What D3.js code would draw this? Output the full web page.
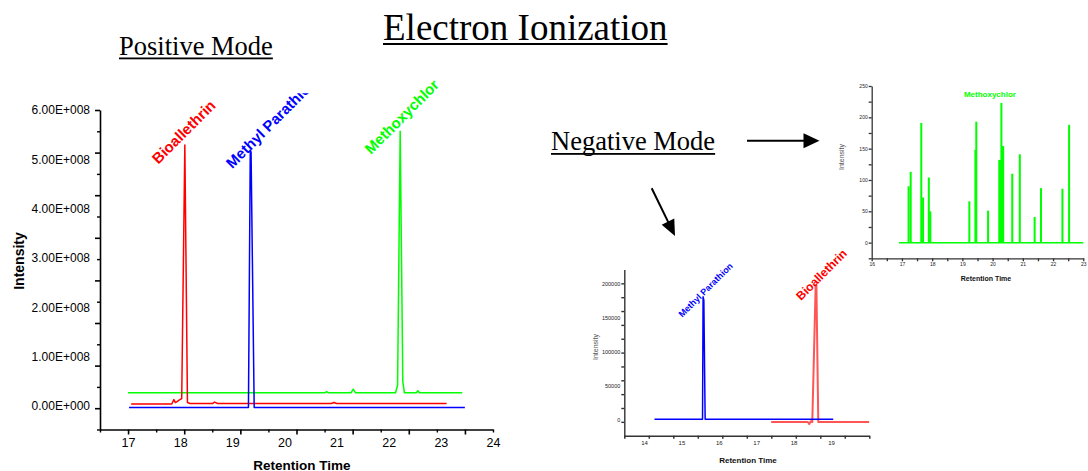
<!DOCTYPE html>
<html><head><meta charset="utf-8">
<script src="https://cdn.jsdelivr.net/npm/d3@7"></script>
<style>body{margin:0;background:#fff}svg{display:block}</style>
</head><body>
<svg id="c" width="1088" height="471"></svg>
<script>
// ---------------- DATA ----------------
// Positive mode (main chart)
const posXLabels = ["17","18","19","20","21","22","23","24"];
const posYLabels = [0, 1e8, 2e8, 3e8, 4e8, 5e8, 6e8];
const posBioallethrin = [[17.06,0.04e8],[17.84,0.04e8],[17.88,0.13e8],[17.91,0.07e8],[17.94,0.09e8],[17.98,0.12e8],[18.03,0.15e8],[18.09,5.29e8],[18.14,0.07e8],[18.19,0.05e8],[18.62,0.05e8],[18.66,0.08e8],[18.72,0.05e8],[20.9,0.05e8],[20.95,0.07e8],[21.0,0.05e8],[23.11,0.05e8]];
const posMethylParathion = [[17.02,-0.03e8],[19.31,-0.03e8],[19.345,5.19e8],[19.36,5.15e8],[19.42,-0.03e8],[23.46,-0.03e8]];
const posMethoxychlor = [[17.0,0.27e8],[20.78,0.27e8],[20.81,0.29e8],[20.84,0.27e8],[21.28,0.27e8],[21.32,0.34e8],[21.36,0.27e8],[22.13,0.27e8],[22.17,0.42e8],[22.22,5.57e8],[22.27,0.5e8],[22.3,0.27e8],[22.53,0.27e8],[22.56,0.31e8],[22.59,0.27e8],[23.41,0.27e8]];
const posNames = ["Bioallethrin","Methyl Parathion","Methoxychlor"];
const posLabelAt = [[17.58,4.89e8],[19.0,4.8e8],[21.66,5.09e8]];

// Negative mode, lower inset
const negXLabels = [14,15,16,17,18,19];
const negYLabels = [0,50000,100000,150000,200000];
const negMethylParathion = [[14.28,0],[15.565,0],[15.58,181000],[15.6,176000],[15.635,0],[19.06,0]];
const negBioallethrin = [[17.40,-4000],[18.38,-4000],[18.42,-7000],[18.46,-3000],[18.50,-4000],[18.59,198000],[18.61,198000],[18.66,-4000],[20.02,-4000]];
const negNames = ["Methyl Parathion","Bioallethrin"];
const negLabelAt = [[15.02,150000],[18.2,175000]];

// Negative mode, upper-right inset (Methoxychlor)
const mxXLabels = [16,17,18,19,20,21,22,23];
const mxYLabels = [0,50,100,150,200,250];
const mxRange = [16.9, 23.0];
const mxTimes   = [17.22,17.29,17.64,17.70,17.89,17.94,19.23,19.43,19.46,19.85,20.22,20.25,20.29,20.32,20.35,20.65,20.90,21.39,21.60,22.31,22.53];
const mxHeights = [90,113,191,72,104,50,66,148,193,51,132,132,223,154,154,110,141,41,87,86,188];
const mxName = "Methoxychlor";
const mxLabelAt = [19.91,232];

// ---------------- DRAW ----------------
const SANS = "'Liberation Sans', Arial, Helvetica, sans-serif";
const SERIF = "'Liberation Serif', 'Times New Roman', serif";
const RED = "#ff0000", BLUE = "#0000ff", GREEN = "#00ff00";
const svg = d3.select("#c");
svg.append("rect").attr("width",1088).attr("height",471).attr("fill","#fff");
svg.append("defs").append("clipPath").attr("id","clipTop")
  .append("rect").attr("x",0).attr("y",93.3).attr("width",1088).attr("height",400);

// titles with underline
function title(text, x, y, size, off, th) {
  const t = svg.append("text").attr("x",x).attr("y",y)
    .attr("font-family",SERIF).attr("font-size",size).attr("fill","#000").text(text);
  const w = t.node().getComputedTextLength();
  svg.append("rect").attr("x",x).attr("y",y+off).attr("width",w).attr("height",th).attr("fill","#000");
}
title("Electron Ionization", 383, 40, 37, 3, 2);
title("Positive Mode", 119, 55, 26.5, 2.5, 1.8);
title("Negative Mode", 551, 150, 26.5, 3, 1.8);

// arrows
function arrow(x1,y1,x2,y2,len,half){
  const dx=x2-x1, dy=y2-y1, L=Math.hypot(dx,dy), ux=dx/L, uy=dy/L;
  const bx=x2-ux*len, by=y2-uy*len;
  svg.append("line").attr("x1",x1).attr("y1",y1).attr("x2",bx+ux*2).attr("y2",by+uy*2)
    .attr("stroke","#000").attr("stroke-width",2);
  svg.append("path").attr("d",`M${x2},${y2}L${bx-uy*half},${by+ux*half}L${bx+uy*half},${by-ux*half}Z`).attr("fill","#000");
}
arrow(747,140.7,819.5,140.7,16,7.5);
arrow(651.7,188.3,675,236,16,7);

const eFmt = v => {
  if (v === 0) return "0.00E+000";
  const e = Math.floor(Math.log10(Math.abs(v)));
  return (v/Math.pow(10,e)).toFixed(2) + "E+" + String(e).padStart(3,"0");
};

function styleAxis(g, color, w){
  g.selectAll(".domain").attr("stroke",color).attr("stroke-width",w);
  g.selectAll(".tick line").attr("stroke",color).attr("stroke-width",w);
}

// ===== Main chart (positive mode) =====
{
  const left=100, right=493, top=110, bottom=429.5;
  const x = d3.scaleLinear([17,24],[128,493]);
  const y = d3.scaleLinear([0,6e8],[406,110]);
  const xFrame = d3.scaleLinear([16.5,23.5],[left,right]);
  const yFrame = d3.scaleLinear([0,15],[top,bottom]);
  const g = svg.append("g");

  const gx = g.append("g").attr("transform",`translate(0,${bottom})`);
  gx.call(d3.axisBottom(xFrame).tickValues(d3.range(17,23.6,1)).tickSize(5).tickSizeOuter(0).tickFormat(""));
  const gx2 = g.append("g").attr("transform",`translate(0,${bottom})`);
  gx2.call(d3.axisBottom(xFrame).tickValues(d3.range(16.5,23.6,1)).tickSize(3).tickSizeOuter(0).tickFormat(""));
  gx2.select(".domain").remove();
  styleAxis(gx,"#000",1.6); styleAxis(gx2,"#000",1.4);
  const gxl = g.append("g").attr("transform",`translate(0,${bottom})`);
  gxl.call(d3.axisBottom(x).tickValues(posXLabels.map(Number)).tickFormat((d,i)=>posXLabels[i]).tickSize(0).tickPadding(9));
  gxl.select(".domain").remove();
  gxl.selectAll("text").attr("font-family",SANS).attr("font-size",12.5).attr("fill","#000");

  const gy = g.append("g").attr("transform",`translate(${left},0)`);
  gy.call(d3.axisLeft(yFrame).tickValues(d3.range(0,15,2)).tickSize(5).tickSizeOuter(0).tickFormat(""));
  const gy2 = g.append("g").attr("transform",`translate(${left},0)`);
  gy2.call(d3.axisLeft(yFrame).tickValues(d3.range(1,16,2)).tickSize(3).tickSizeOuter(0).tickFormat(""));
  gy2.select(".domain").remove();
  styleAxis(gy,"#000",1.6); styleAxis(gy2,"#000",1.4);
  const gyl = g.append("g").attr("transform",`translate(${left},0)`);
  gyl.call(d3.axisLeft(y).tickValues(posYLabels).tickFormat(eFmt).tickSize(0).tickPadding(10));
  gyl.select(".domain").remove();
  gyl.selectAll("text").attr("font-family",SANS).attr("font-size",12).attr("fill","#000");

  g.append("text").attr("transform","translate(23.5,261) rotate(-90)").attr("text-anchor","middle")
    .attr("font-family",SANS).attr("font-weight","bold").attr("font-size",14).text("Intensity");
  g.append("text").attr("x",302).attr("y",469.5).attr("text-anchor","middle")
    .attr("font-family",SANS).attr("font-weight","bold").attr("font-size",13.5).text("Retention Time");

  const line = d3.line().x(d=>x(d[0])).y(d=>y(d[1]));
  const series = [posBioallethrin, posMethylParathion, posMethoxychlor];
  const colors = [RED, BLUE, GREEN];
  [2,0,1].forEach(i=>{
    g.append("path").datum(series[i]).attr("d",line).attr("fill","none")
      .attr("stroke",colors[i]).attr("stroke-width",1.5).attr("stroke-linejoin","round");
  });

  posNames.forEach((n,i)=>{
    const holder = g.append("g");
    if (i===1) holder.attr("clip-path","url(#clipTop)");
    holder.append("text").attr("transform",`translate(${x(posLabelAt[i][0])},${y(posLabelAt[i][1])}) rotate(-45)`)
      .attr("font-family",SANS).attr("font-weight","bold").attr("font-size",15)
      .attr("fill",colors[i]).text(n);
  });
}

// ===== Lower inset (negative mode) =====
{
  const left=624.3, right=869.3, top=269.5, bottom=435.7;
  const x = d3.scaleLinear([14,19],[644,831]);
  const y = d3.scaleLinear([0,200000],[419.3,284]);
  const xFrame = d3.scaleLinear([0,10],[left,right]);
  const yFrame = d3.scaleLinear([0,12],[top,bottom]);
  const g = svg.append("g");
  const AX = "#333";
  const gx = g.append("g").attr("transform",`translate(0,${bottom})`);
  gx.call(d3.axisBottom(xFrame).tickValues(d3.range(0,11)).tickSize(3).tickSizeOuter(0).tickFormat(""));
  styleAxis(gx,AX,1.5);
  const gxl = g.append("g").attr("transform",`translate(0,${bottom})`);
  gxl.call(d3.axisBottom(x).tickValues(negXLabels).tickFormat(d3.format("d")).tickSize(0).tickPadding(5));
  gxl.select(".domain").remove();
  gxl.selectAll("text").attr("font-family",SANS).attr("font-size",6).attr("fill","#222");

  const gy = g.append("g").attr("transform",`translate(${left},0)`);
  gy.call(d3.axisLeft(yFrame).tickValues(d3.range(1,12)).tickSize(3).tickSizeOuter(0).tickFormat(""));
  styleAxis(gy,AX,1.4);
  const gyl = g.append("g").attr("transform",`translate(${left},0)`);
  gyl.call(d3.axisLeft(y).tickValues(negYLabels).tickSize(0).tickPadding(4).tickFormat(d3.format("d")));
  gyl.select(".domain").remove();
  gyl.selectAll("text").attr("font-family",SANS).attr("font-size",5.5).attr("fill","#222");

  g.append("text").attr("transform","translate(598,347) rotate(-90)").attr("text-anchor","middle")
    .attr("font-family",SANS).attr("font-size",7).attr("fill","#555").text("Intensity");
  g.append("text").attr("x",748).attr("y",463).attr("text-anchor","middle")
    .attr("font-family",SANS).attr("font-weight","bold").attr("font-size",8).attr("fill","#111").text("Retention Time");

  const line = d3.line().x(d=>x(d[0])).y(d=>y(d[1]));
  g.append("path").datum(negBioallethrin).attr("d",line).attr("fill","none")
    .attr("stroke","#ff5555").attr("stroke-width",2).attr("stroke-linejoin","round");
  g.append("path").datum(negMethylParathion).attr("d",line).attr("fill","none")
    .attr("stroke",BLUE).attr("stroke-width",1.5).attr("stroke-linejoin","round");

  const cols=[BLUE,RED], sizes=[9,12];
  negNames.forEach((n,i)=>{
    g.append("text").attr("transform",`translate(${x(negLabelAt[i][0])},${y(negLabelAt[i][1])}) rotate(-45)`)
      .attr("font-family",SANS).attr("font-weight","bold").attr("font-size",sizes[i])
      .attr("fill",cols[i]).text(n);
  });
}

// ===== Upper-right inset (Methoxychlor) =====
{
  const x = d3.scaleLinear([16,23],[871.7,1083.3]);
  const y = d3.scaleLinear([-25,250],[258.3,86]);
  const g = svg.append("g");
  const AX = "#333";
  const gx = g.append("g").attr("transform",`translate(0,258.3)`);
  gx.call(d3.axisBottom(x).tickValues(d3.range(16,23.01,0.5)).tickSize(3).tickSizeOuter(0).tickFormat(""));
  styleAxis(gx,AX,1.3);
  const gxl = g.append("g").attr("transform",`translate(0,258.3)`);
  gxl.call(d3.axisBottom(x).tickValues(mxXLabels).tickFormat(d3.format("d")).tickSize(0).tickPadding(4));
  gxl.select(".domain").remove();
  gxl.selectAll("text").attr("font-family",SANS).attr("font-size",5).attr("fill","#222");

  const gy = g.append("g").attr("transform",`translate(871.7,0)`);
  gy.call(d3.axisLeft(y).tickValues(d3.range(-25,251,25)).tickSize(3).tickSizeOuter(0).tickFormat(""));
  styleAxis(gy,AX,1.3);
  const gyl = g.append("g").attr("transform",`translate(871.7,0)`);
  gyl.call(d3.axisLeft(y).tickValues(mxYLabels).tickFormat(d3.format("d")).tickSize(0).tickPadding(4));
  gyl.select(".domain").remove();
  gyl.selectAll("text").attr("font-family",SANS).attr("font-size",5).attr("fill","#222");

  g.append("text").attr("transform","translate(844,157) rotate(-90)").attr("text-anchor","middle")
    .attr("font-family",SANS).attr("font-size",7).attr("fill","#555").text("Intensity");
  g.append("text").attr("x",986).attr("y",281).attr("text-anchor","middle")
    .attr("font-family",SANS).attr("font-weight","bold").attr("font-size",7).attr("fill","#111").text("Retention Time");

  g.append("line").attr("x1",x(mxRange[0])).attr("x2",x(mxRange[1])).attr("y1",y(0)).attr("y2",y(0))
    .attr("stroke",GREEN).attr("stroke-width",1.5);
  g.selectAll("line.spike").data(mxTimes).join("line").attr("class","spike")
    .attr("x1",d=>x(d)).attr("x2",d=>x(d)).attr("y1",y(0)).attr("y2",(d,i)=>y(mxHeights[i]))
    .attr("stroke",GREEN).attr("stroke-width",2);
  g.append("text").attr("x",x(mxLabelAt[0])).attr("y",y(mxLabelAt[1])).attr("text-anchor","middle")
    .attr("font-family",SANS).attr("font-weight","bold").attr("font-size",8).attr("fill",GREEN).text(mxName);
}
</script>
</body></html>
